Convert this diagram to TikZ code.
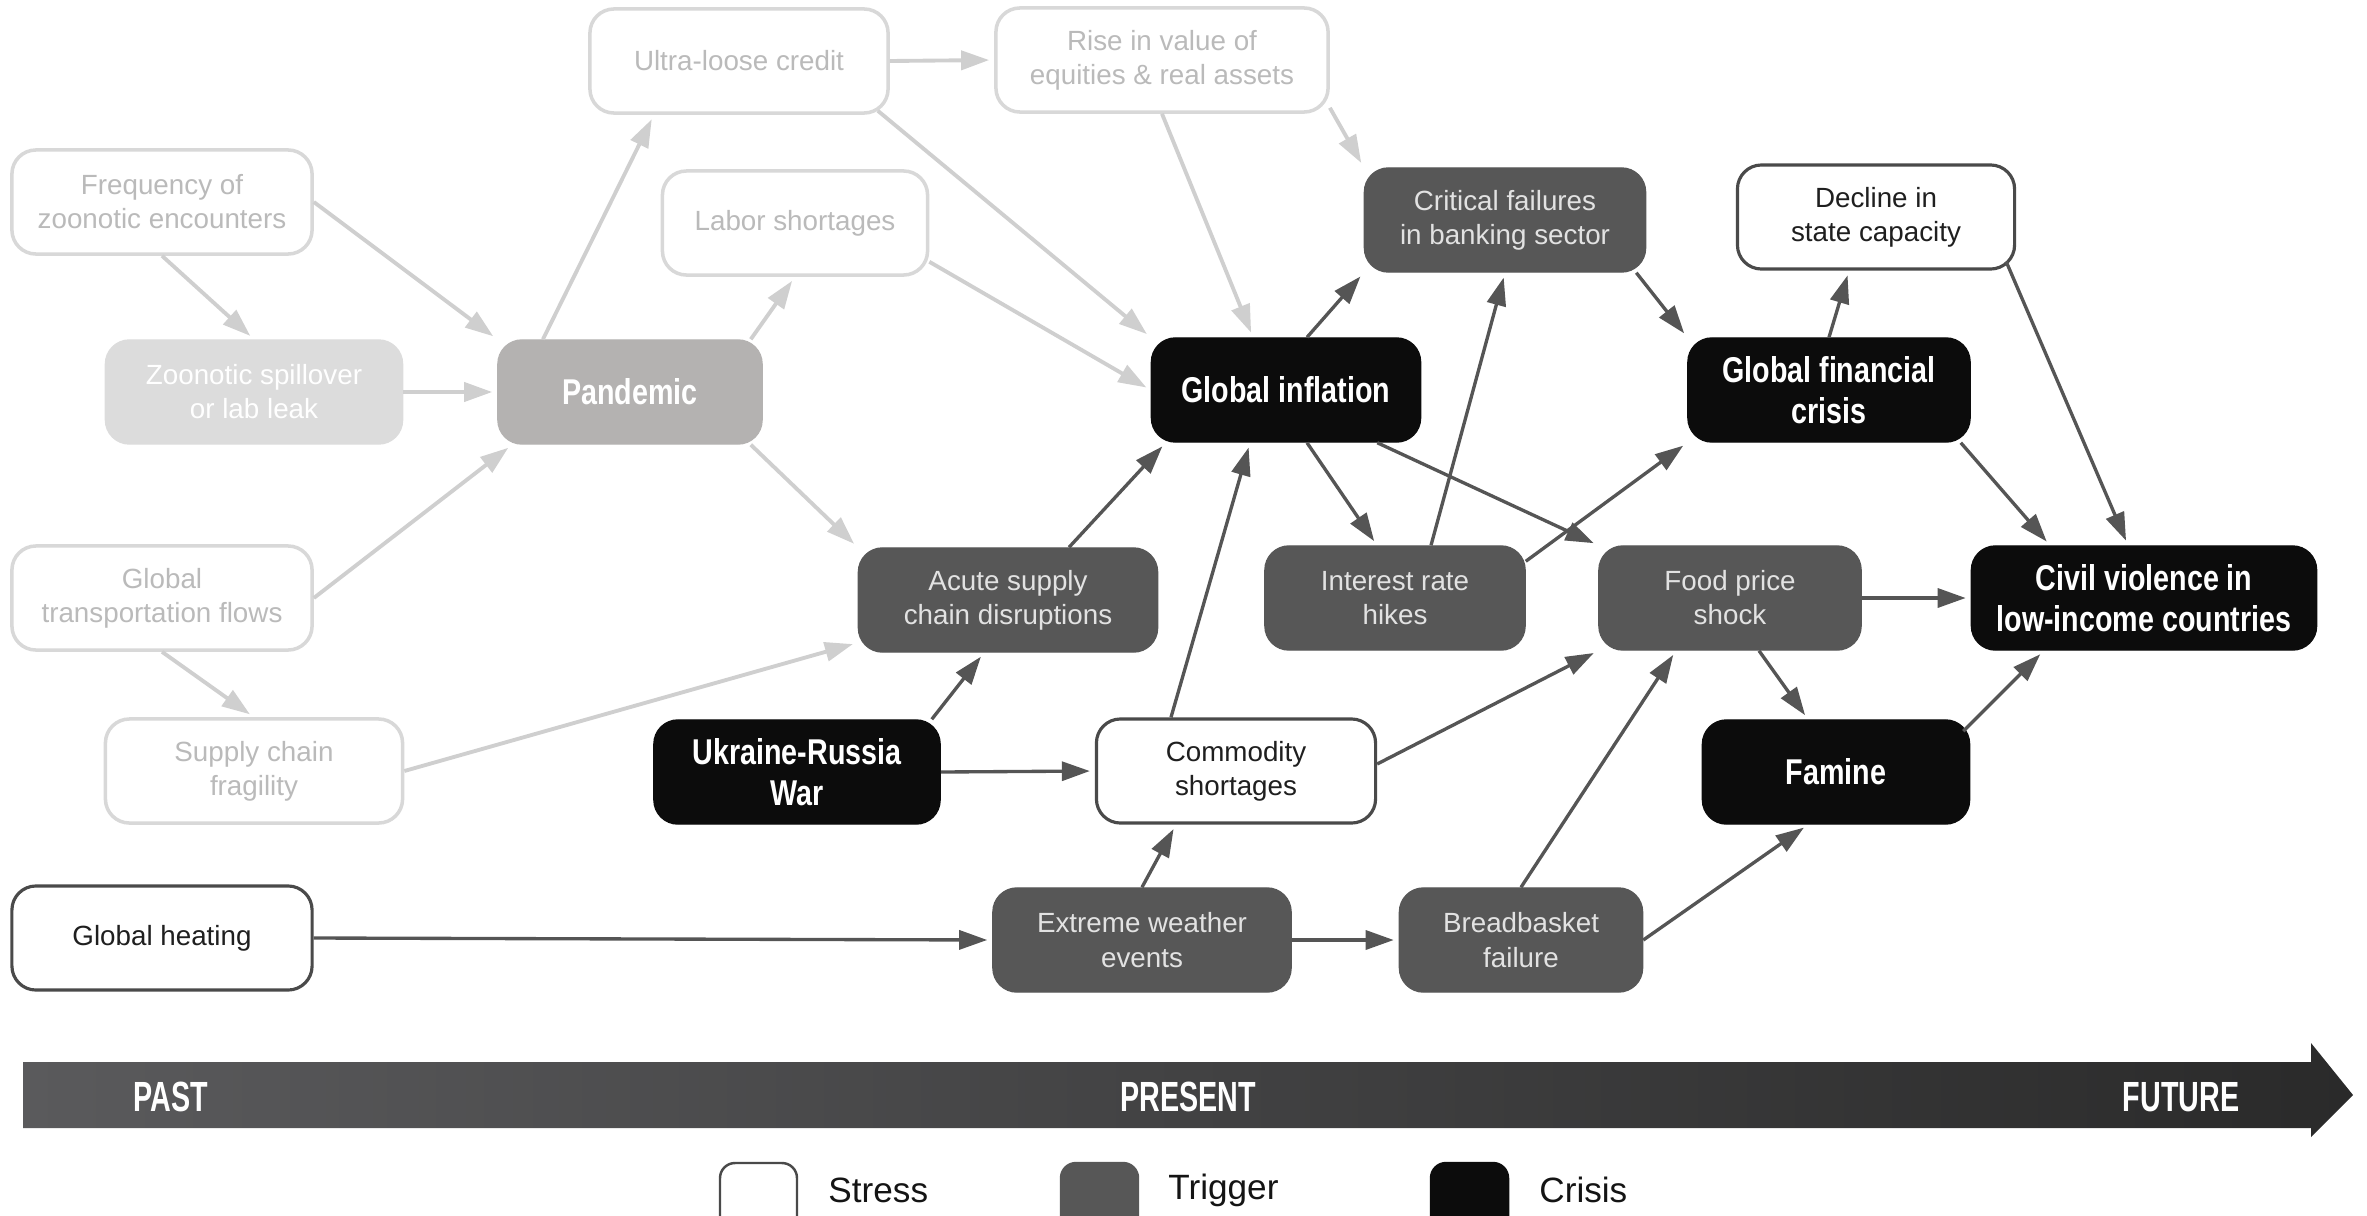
\documentclass[tikz,border=0pt]{standalone}
\usepackage{fontspec}
\setmainfont{Liberation Sans}
\newfontfamily\condfont[FakeStretch=0.8]{Liberation Sans}
\newfontfamily\axisfont[FakeStretch=0.68]{Liberation Sans}
\usetikzlibrary{arrows.meta,calc}

\definecolor{faintline}{HTML}{D8D8D8}
\definecolor{fainttext}{HTML}{BABABA}
\definecolor{faintarrow}{HTML}{CFCFCF}
\definecolor{stressline}{HTML}{4A4A4A}
\definecolor{triggerfill}{HTML}{575757}
\definecolor{triggertext}{HTML}{E2E2E2}
\definecolor{crisisfill}{HTML}{0C0C0C}
\definecolor{spillfill}{HTML}{DCDCDC}
\definecolor{pandemicfill}{HTML}{B4B2B1}
\definecolor{darkarrow}{HTML}{555555}
\definecolor{axisleft}{HTML}{5A5A5C}
\definecolor{axisright}{HTML}{2A2A2A}

\begin{document}
\begin{tikzpicture}[x=0.01cm, y=-0.01cm,
  box/.style={rounded corners=0.24cm, minimum height=1.04cm, inner sep=2pt,
    align=center, font=\fontsize{7.9}{9.7}\selectfont},
  faint/.style={box, draw=faintline, line width=1pt, fill=white, text=fainttext},
  stress/.style={box, draw=stressline, line width=0.9pt, fill=white, text=black!88},
  trigger/.style={box, fill=triggerfill, draw=triggerfill, text=triggertext},
  crisis/.style={box, fill=crisisfill, draw=crisisfill, text=white,
    font=\condfont\bfseries\fontsize{10.2}{11.8}\selectfont},
  spill/.style={box, fill=spillfill, draw=spillfill, text=white},
  pandemicbox/.style={box, fill=pandemicfill, draw=pandemicfill, text=white,
    font=\condfont\bfseries\fontsize{10.2}{11.8}\selectfont},
  fa/.style={draw=faintarrow, line width=1.1pt,
    -{Triangle[length=0.28cm,width=0.19cm]}, shorten >=0.05cm},
  da/.style={draw=darkarrow, line width=0.95pt,
    -{Triangle[length=0.28cm,width=0.19cm]}, shorten >=0.05cm},
  axislabel/.style={text=white, font=\axisfont\bfseries\fontsize{12}{12}\selectfont},
  legendbox/.style={rounded corners=0.15cm, line width=0.7pt},
  legendlabel/.style={anchor=west, text=black!92, font=\fontsize{10}{12}\selectfont}]

\useasboundingbox (0,0) rectangle (2367,1215);

% ---- nodes ----
\node[faint, minimum width=2.98cm] (ultra) at (739,61) {Ultra-loose credit};
\node[faint, minimum width=3.32cm] (rise) at (1162,60) {Rise in value of\\equities \& real assets};
\node[faint, minimum width=3.00cm] (freq) at (162,202) {Frequency of\\zoonotic encounters};
\node[faint, minimum width=2.65cm] (labor) at (795,223) {Labor shortages};
\node[trigger, minimum width=2.81cm] (critical) at (1505,220) {Critical failures\\in banking sector};
\node[stress, minimum width=2.77cm] (decline) at (1876,217) {Decline in\\state capacity};

\node[spill, minimum width=2.97cm] (spill) at (254,392) {Zoonotic spillover\\or lab leak};
\node[pandemicbox, minimum width=2.64cm] (pandemic) at (630,392) {Pandemic};
\node[crisis, minimum width=2.69cm] (inflation) at (1286,390) {Global inflation};
\node[crisis, minimum width=2.82cm] (gfc) at (1829,390) {Global financial\\crisis};

\node[faint, minimum width=3.00cm] (transport) at (162,598) {Global\\transportation flows};
\node[trigger, minimum width=2.99cm] (acute) at (1008,600) {Acute supply\\chain disruptions};
\node[trigger, minimum width=2.60cm] (interest) at (1395,598) {Interest rate\\hikes};
\node[trigger, minimum width=2.62cm] (food) at (1730,598) {Food price\\shock};
\node[crisis, minimum width=3.45cm] (civil) at (2144,598) {Civil violence in\\low-income countries};

\node[faint, minimum width=2.97cm] (fragility) at (254,771) {Supply chain\\fragility};
\node[crisis, minimum width=2.86cm] (ukraine) at (797,772) {Ukraine-Russia\\War};
\node[stress, minimum width=2.79cm] (commodity) at (1236,771) {Commodity\\shortages};
\node[crisis, minimum width=2.67cm] (famine) at (1836,772) {Famine};

\node[stress, minimum width=3.00cm] (heating) at (162,938) {Global heating};
\node[trigger, minimum width=2.98cm] (extreme) at (1142,940) {Extreme weather\\events};
\node[trigger, minimum width=2.43cm] (breadbasket) at (1521,940) {Breadbasket\\failure};

% ---- faded connectors ----
\draw[fa] (freq.south) -- (spill.north);
\draw[fa] (freq.east) -- (pandemic.north west);
\draw[fa] (spill.east) -- (pandemic.west);
\draw[fa] (transport.east) -- ([xshift=0.15cm]pandemic.south west);
\draw[fa] (transport.south) -- (fragility.north);
\draw[fa] ([xshift=-0.87cm]pandemic.north) -- ([xshift=-0.85cm]ultra.south);
\draw[fa] ([xshift=-0.12cm]pandemic.north east) -- (labor.south);
\draw[fa] ([xshift=-0.12cm]pandemic.south east) -- (acute.north west);
\draw[fa] (ultra.east) -- (rise.west);
\draw[fa] ([xshift=-0.12cm,yshift=0.04cm]ultra.south east) -- (inflation.north west);
\draw[fa] (rise.south) -- ([xshift=-0.33cm]inflation.north);
\draw[fa] ([yshift=0.06cm]rise.south east) -- (critical.north west);
\draw[fa] ([yshift=0.15cm]labor.south east) -- (inflation.west);
\draw[fa] (fragility.east) -- ([yshift=0.1cm]acute.south west);

% ---- dark connectors ----
\draw[da] ([xshift=0.21cm]inflation.north) -- (critical.south west);
\draw[da] ([xshift=0.21cm]inflation.south) -- ([xshift=-0.18cm]interest.north);
\draw[da] ([xshift=-0.44cm]inflation.south east) -- (food.north west);
\draw[da] ([xshift=0.61cm]acute.north) -- ([xshift=0.15cm]inflation.south west);
\draw[da] ([xshift=-0.65cm]commodity.north) -- ([xshift=-0.36cm]inflation.south);
\draw[da] ([xshift=-0.09cm]ukraine.north east) -- ([xshift=-0.24cm]acute.south);
\draw[da] (ukraine.east) -- (commodity.west);
\draw[da] ([xshift=0.36cm]interest.north) -- (critical.south);
\draw[da] ([yshift=-0.16cm]interest.north east) -- (gfc.south west);
\draw[da] ([xshift=-0.1cm]critical.south east) -- (gfc.north west);
\draw[da] (gfc.north) -- ([xshift=-0.27cm]decline.south);
\draw[da] ([xshift=-0.1cm]gfc.south east) -- ([xshift=-0.94cm]civil.north);
\draw[da] ([xshift=-0.1cm,yshift=0.09cm]decline.south east) -- ([xshift=-0.16cm]civil.north);
\draw[da] (food.east) -- (civil.west);
\draw[da] ([xshift=0.29cm]food.south) -- ([xshift=-0.28cm]famine.north);
\draw[da] ([xshift=-0.07cm,yshift=-0.12cm]famine.north east) -- ([xshift=0.73cm]civil.south west);
\draw[da] ([yshift=0.07cm]commodity.east) -- (food.south west);
\draw[da] (heating.east) -- (extreme.west);
\draw[da] (extreme.north) -- ([xshift=-0.6cm]commodity.south);
\draw[da] (extreme.east) -- (breadbasket.west);
\draw[da] (breadbasket.north) -- ([xshift=-0.54cm]food.south);
\draw[da] (breadbasket.east) -- ([xshift=-0.28cm]famine.south);

% ---- time axis ----
\shade[left color=axisleft, right color=axisright]
  (23,1062) -- (2311,1062) -- (2311,1043) -- (2353,1095) -- (2311,1137)
  -- (2311,1128) -- (23,1128) -- cycle;
\node[axislabel] (past) at (171,1097) {PAST};
\node[axislabel] (present) at (1188,1097) {PRESENT};
\node[axislabel] (future) at (2181,1097) {FUTURE};

% ---- legend ----
\begin{scope}
  \clip (0,0) rectangle (2367,1215);
  \draw[legendbox, draw=stressline, fill=white] (720,1163) rectangle (797,1250);
  \draw[legendbox, draw=triggerfill, fill=triggerfill] (1061,1163) rectangle (1138,1250);
  \draw[legendbox, draw=crisisfill, fill=crisisfill] (1431,1163) rectangle (1508,1250);
\end{scope}
\node[legendlabel] (lstress) at (816,1190) {Stress};
\node[legendlabel] (ltrigger) at (1156,1190) {Trigger};
\node[legendlabel] (lcrisis) at (1527,1190) {Crisis};

\end{tikzpicture}
\end{document}
